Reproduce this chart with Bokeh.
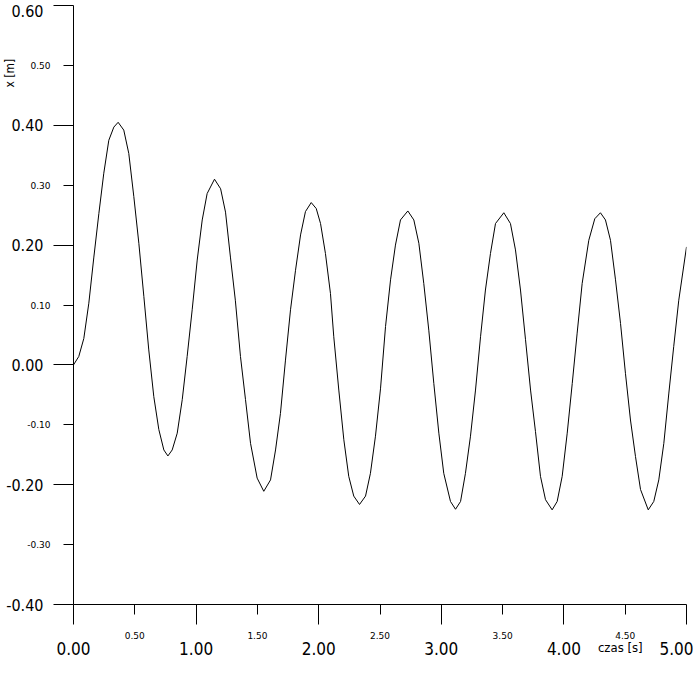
from bokeh.plotting import figure
from bokeh.models import LinearAxis, FixedTicker, Range1d
from bokeh.embed import file_html
from bokeh.resources import INLINE

# ---- data ----
czas = [
    0.000, 0.043, 0.084, 0.125, 0.166, 0.207, 0.247, 0.288, 0.329, 0.364,
    0.410, 0.451, 0.492, 0.533, 0.574, 0.614, 0.655, 0.696, 0.737, 0.770,
    0.805, 0.846, 0.887, 0.927, 0.968, 1.009, 1.050, 1.090, 1.150, 1.200,
    1.240, 1.280, 1.320, 1.362, 1.403, 1.444, 1.498, 1.552, 1.607, 1.648,
    1.688, 1.729, 1.770, 1.811, 1.852, 1.892, 1.939, 1.980, 2.015, 2.055,
    2.096, 2.123, 2.164, 2.205, 2.245, 2.286, 2.333, 2.382, 2.422, 2.463,
    2.504, 2.545, 2.586, 2.626, 2.667, 2.727, 2.776, 2.817, 2.857, 2.898,
    2.939, 2.980, 3.020, 3.075, 3.116, 3.157, 3.197, 3.238, 3.279, 3.320,
    3.360, 3.401, 3.442, 3.510, 3.564, 3.605, 3.646, 3.687, 3.728, 3.768,
    3.809, 3.850, 3.904, 3.945, 3.986, 4.027, 4.068, 4.108, 4.149, 4.203,
    4.252, 4.298, 4.339, 4.380, 4.421, 4.462, 4.502, 4.543, 4.584, 4.625,
    4.688, 4.733, 4.774, 4.815, 4.856, 4.896, 4.937, 5.000,
]
x_m = [
    0.000, 0.014, 0.044, 0.103, 0.180, 0.253, 0.320, 0.375, 0.397, 0.405,
    0.392, 0.353, 0.281, 0.203, 0.114, 0.025, -0.053, -0.108, -0.142, -0.152,
    -0.142, -0.114, -0.058, 0.014, 0.092, 0.175, 0.242, 0.286, 0.310, 0.294,
    0.255, 0.180, 0.108, 0.014, -0.058, -0.131, -0.189, -0.211, -0.192, -0.142,
    -0.081, 0.008, 0.092, 0.158, 0.217, 0.256, 0.271, 0.261, 0.236, 0.186,
    0.119, 0.047, -0.042, -0.125, -0.186, -0.219, -0.233, -0.219, -0.181, -0.119,
    -0.040, 0.064, 0.142, 0.200, 0.242, 0.257, 0.242, 0.203, 0.136, 0.058,
    -0.031, -0.114, -0.181, -0.228, -0.241, -0.228, -0.181, -0.119, -0.042, 0.047,
    0.125, 0.186, 0.236, 0.254, 0.236, 0.192, 0.125, 0.042, -0.042, -0.111,
    -0.186, -0.225, -0.242, -0.228, -0.186, -0.114, -0.031, 0.053, 0.136, 0.208,
    0.244, 0.254, 0.242, 0.208, 0.142, 0.069, -0.014, -0.092, -0.153, -0.208,
    -0.242, -0.228, -0.192, -0.131, -0.047, 0.031, 0.108, 0.197,
]

x_major_ticks = [0, 1, 2, 3, 4, 5]
x_major_labels = ["0.00", "1.00", "2.00", "3.00", "4.00", "5.00"]
x_minor_ticks = [0.5, 1.5, 2.5, 3.5, 4.5]
x_minor_labels = ["0.50", "1.50", "2.50", "3.50", "4.50"]

y_major_ticks = [-0.4, -0.2, 0.0, 0.2, 0.4, 0.6]
y_major_labels = ["-0.40", "-0.20", "0.00", "0.20", "0.40", "0.60"]
y_minor_ticks = [-0.3, -0.1, 0.1, 0.3, 0.5]
y_minor_labels = ["-0.30", "-0.10", "0.10", "0.30", "0.50"]

x_title = "czas [s]"
y_title = "x [m]"
# where the axis titles sit, in axis units
x_title_at = 4.46
y_title_at = 0.487

XBIG = "17px"
YBIG = "16px"
SMALL = "9px"
FONT = "DejaVu Sans"
BFONT = "DejaVu Sans Condensed"
TFONT = "DejaVu Sans Condensed"

p = figure(width=693, height=657, output_backend="svg", toolbar_location=None,
           x_range=Range1d(0, 5), y_range=Range1d(-0.4, 0.6),
           x_axis_type=None, y_axis_type=None,
           min_border_left=73, min_border_right=7,
           min_border_top=5, min_border_bottom=52)
p.outline_line_color = None
p.background_fill_color = "white"
p.border_fill_color = "white"


def make_axis(ticks, minor, labels, size, font, standoff, tick_out=0, minor_out=0,
              draw=True, label_at=None):
    at = ticks if label_at is None else label_at
    ax = LinearAxis(ticker=FixedTicker(ticks=at, minor_ticks=minor))
    ax.major_tick_in = 0
    ax.minor_tick_in = 0
    ax.major_tick_out = tick_out
    ax.minor_tick_out = minor_out
    if draw:
        ax.axis_line_color = "black"
        ax.major_tick_line_color = "black"
        ax.minor_tick_line_color = "black"
    else:
        ax.axis_line_color = None
        ax.major_tick_line_color = None
        ax.minor_tick_line_color = None
    ax.major_label_text_color = "black"
    ax.major_label_text_font = font
    ax.major_label_text_font_size = size
    ax.major_label_standoff = standoff
    ax.major_label_overrides = {t: s for t, s in zip(at, labels)}
    return ax


# the top label sits just under its tick (as in the reference), not centred on it
y_top = max(y_major_ticks)
y_label_at = [t if t < y_top else t - 0.01 for t in y_major_ticks]

# left side: line + ticks + small labels, then the title, then the big labels
ya = make_axis(y_minor_ticks, y_major_ticks, y_minor_labels, SMALL, FONT, 3, 10, 20)
p.add_layout(ya, "left")
yt = make_axis([y_title_at], [], [y_title], "12px", TFONT, 7, draw=False)
yt.major_label_orientation = "vertical"
p.add_layout(yt, "left")
yb = make_axis(y_major_ticks, [], y_major_labels, YBIG, BFONT, -43, draw=False,
               label_at=y_label_at)
p.add_layout(yb, "left")

# bottom side
xa = make_axis(x_minor_ticks, x_major_ticks, x_minor_labels, SMALL, FONT, 7, 10, 20)
p.add_layout(xa, "below")
xb = make_axis(x_major_ticks, [], x_major_labels, XBIG, BFONT, 0, draw=False)
p.add_layout(xb, "below")
xt = make_axis([x_title_at], [], [x_title], "13px", TFONT, -18, draw=False)
p.add_layout(xt, "below")

p.line(czas, x_m, line_color="black", line_width=1)

open("out.html", "w").write(file_html(p, INLINE))
